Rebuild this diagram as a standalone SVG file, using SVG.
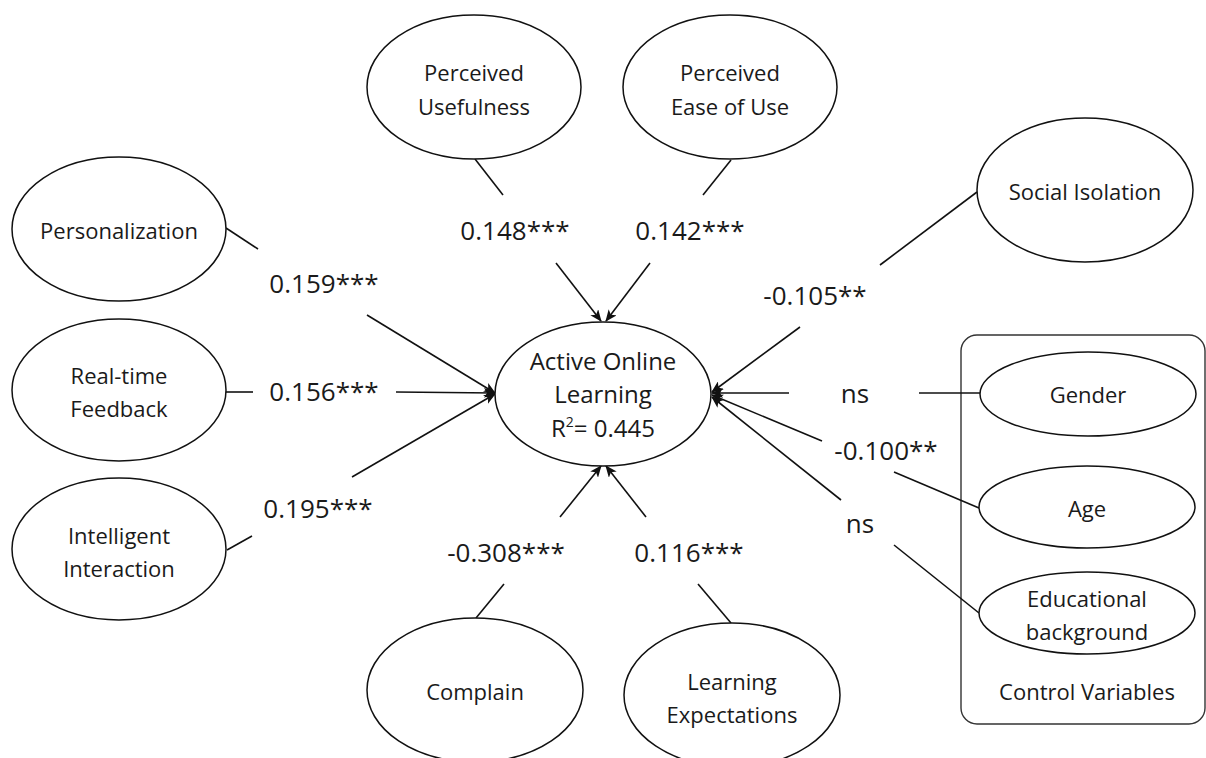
<svg xmlns="http://www.w3.org/2000/svg" width="1206" height="758" viewBox="0 0 1206 758">
<style>
.node{fill:#fff;stroke:#111;stroke-width:1.5}
.t{font-family:"Open Sans","Noto Sans","DejaVu Sans",sans-serif;font-size:22px;fill:#1a1a1a;text-anchor:middle}
.c{font-size:24px}
.l{font-family:"Open Sans","Noto Sans","DejaVu Sans",sans-serif;font-size:26px;fill:#1a1a1a;text-anchor:middle}
.e{fill:none;stroke:#111;stroke-width:1.6}
.a{fill:none;stroke:#111;stroke-width:1.6;marker-end:url(#arr)}
.box{fill:none;stroke:#333;stroke-width:1.4}
</style>
<defs>
<marker id="arr" viewBox="0 0 12 10" refX="11" refY="5" markerWidth="12" markerHeight="10" markerUnits="userSpaceOnUse" orient="auto">
<path d="M0,0 L12,5 L0,10 L3,5 Z" fill="#111"/>
</marker>
</defs>
<rect width="1206" height="758" fill="#fff"/>
<g id="controls-box"><rect class="box" x="961" y="335" width="244" height="389" rx="16"/><text class="t" x="1087" y="700">Control Variables</text></g>
<g id="connectors">
<line class="e" x1="226" y1="228" x2="258" y2="249"/>
<line class="a" x1="367" y1="315" x2="495" y2="393"/>
<line class="e" x1="226" y1="392" x2="253" y2="392"/>
<line class="a" x1="396" y1="392" x2="495" y2="393"/>
<line class="e" x1="227" y1="550" x2="252" y2="536"/>
<line class="a" x1="352" y1="477" x2="495" y2="394"/>
<line class="e" x1="475" y1="159" x2="503" y2="195"/>
<line class="a" x1="556" y1="263" x2="601" y2="321"/>
<line class="e" x1="731" y1="160" x2="703" y2="195"/>
<line class="a" x1="650" y1="263" x2="606" y2="321"/>
<line class="e" x1="977" y1="192" x2="880" y2="265"/>
<line class="a" x1="800" y1="327" x2="712" y2="392"/>
<line class="e" x1="919" y1="393" x2="980" y2="393"/>
<line class="a" x1="789" y1="393" x2="712" y2="393"/>
<line class="e" x1="894" y1="472" x2="979" y2="508"/>
<line class="a" x1="822" y1="441" x2="712" y2="395"/>
<line class="e" x1="894" y1="545" x2="979" y2="613"/>
<line class="a" x1="841" y1="500" x2="712" y2="397"/>
<line class="e" x1="504" y1="584" x2="476" y2="618"/>
<line class="a" x1="560" y1="517" x2="601" y2="466"/>
<line class="e" x1="698" y1="584" x2="731" y2="623"/>
<line class="a" x1="646" y1="517" x2="606" y2="466"/>
<text class="l" x="324" y="293">0.159***</text>
<text class="l" x="324" y="401">0.156***</text>
<text class="l" x="318" y="518">0.195***</text>
<text class="l" x="515" y="240">0.148***</text>
<text class="l" x="690" y="240">0.142***</text>
<text class="l" x="815" y="305">-0.105**</text>
<text class="l" x="855" y="403">ns</text>
<text class="l" x="886" y="460">-0.100**</text>
<text class="l" x="860" y="533">ns</text>
<text class="l" x="506" y="562">-0.308***</text>
<text class="l" x="689" y="562">0.116***</text>
</g>
<g id="personalization"><ellipse class="node" cx="119" cy="229" rx="107" ry="72"/><text class="t" x="119" y="239">Personalization</text></g>
<g id="real-time-feedback"><ellipse class="node" cx="119" cy="390" rx="107" ry="71"/><text class="t" x="119" y="384">Real-time</text><text class="t" x="119" y="417">Feedback</text></g>
<g id="intelligent-interaction"><ellipse class="node" cx="119" cy="549" rx="107" ry="71"/><text class="t" x="119" y="544">Intelligent</text><text class="t" x="119" y="577">Interaction</text></g>
<g id="perceived-usefulness"><ellipse class="node" cx="474" cy="87" rx="107" ry="72"/><text class="t" x="474" y="81">Perceived</text><text class="t" x="474" y="115">Usefulness</text></g>
<g id="perceived-ease"><ellipse class="node" cx="730" cy="87" rx="107" ry="72"/><text class="t" x="730" y="81">Perceived</text><text class="t" x="730" y="115">Ease of Use</text></g>
<g id="social-isolation"><ellipse class="node" cx="1085" cy="190" rx="108" ry="72"/><text class="t" x="1085" y="200">Social Isolation</text></g>
<g id="active-online-learning"><ellipse class="node" cx="603" cy="394" rx="108" ry="72"/><text class="t c" x="603" y="370">Active Online</text><text class="t c" x="603" y="403">Learning</text><text class="t c" x="603" y="437">R<tspan font-size="14" dy="-10">2</tspan><tspan dy="10">= 0.445</tspan></text></g>
<g id="complain"><ellipse class="node" cx="475" cy="690" rx="108" ry="72"/><text class="t" x="475" y="700">Complain</text></g>
<g id="learning-expectations"><ellipse class="node" cx="732" cy="695" rx="108" ry="72"/><text class="t" x="732" y="690">Learning</text><text class="t" x="732" y="723">Expectations</text></g>
<g id="gender"><ellipse class="node" cx="1088" cy="394" rx="108" ry="42"/><text class="t" x="1088" y="403">Gender</text></g>
<g id="age"><ellipse class="node" cx="1087" cy="507" rx="108" ry="41"/><text class="t" x="1087" y="517">Age</text></g>
<g id="educational-background"><ellipse class="node" cx="1087" cy="613" rx="108" ry="41"/><text class="t" x="1087" y="607">Educational</text><text class="t" x="1087" y="640">background</text></g>
</svg>
